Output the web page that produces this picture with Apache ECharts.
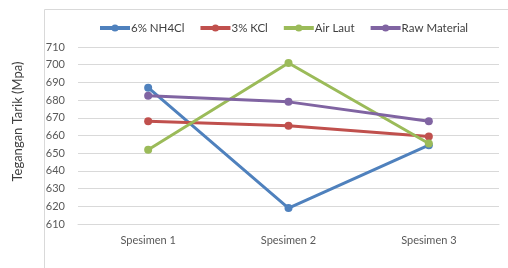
<!DOCTYPE html>
<html lang="id">
<head>
    <meta charset="UTF-8">
    <title>Tegangan Tarik</title>
    <script src="https://cdn.jsdelivr.net/npm/echarts@6/dist/echarts.min.js"></script>
    <style>
        html, body { margin: 0; padding: 0; background: #fff; }
        #chart { width: 508px; height: 268px; }
    </style>
</head>
<body>
    <div id="chart"></div>
    <script>
        // data
        var kategori = ['Spesimen 1', 'Spesimen 2', 'Spesimen 3'];
        var namaSeri = ['6% NH4Cl', '3% KCl', 'Air Laut', 'Raw Material'];
        var nh4cl = [687, 619, 654.5];
        var kcl = [668, 665.5, 659.5];
        var airLaut = [652, 701, 655.5];
        var rawMaterial = [682.5, 679, 668];
        var warna = ['#4f81bd', '#c0504d', '#9bbb59', '#8064a2'];

        var font = 'Lato, "Open Sans", sans-serif';
        var chart = echarts.init(document.getElementById('chart'));

        function seri(nama, data, c) {
            return {
                name: nama,
                type: 'line',
                data: data,
                symbol: 'circle',
                symbolSize: 8,
                color: c,
                lineStyle: { width: 3, color: c },
                itemStyle: { color: c }
            };
        }

        var option = {
            animation: false,
            title: {
                text: 'Pengaruh Larutan terhadap Tegangan Tarik',
                left: 20,
                top: -25,
                textStyle: { fontSize: 20, fontWeight: 'bold', color: '#000', fontFamily: font }
            },
            graphic: [{
                type: 'rect',
                shape: { x: 44.5, y: 9.5, width: 500, height: 300 },
                style: { fill: 'none', stroke: '#d9d9d9', lineWidth: 1 },
                silent: true
            }],
            legend: {
                data: namaSeri,
                top: 17,
                left: 93,
                itemWidth: 30,
                itemHeight: 9,
                itemGap: 14,
                lineStyle: { width: 4 },
                textStyle: { fontSize: 11.5, color: '#404040', fontFamily: font, padding: [0, 0, 0, -4] }
            },
            grid: { left: 78, right: 9, top: 47, bottom: 44 },
            xAxis: {
                type: 'category',
                data: kategori,
                axisLine: { lineStyle: { color: '#d9d9d9' } },
                axisTick: { show: false },
                axisLabel: { color: '#595959', fontSize: 11, fontFamily: font, margin: 11 }
            },
            yAxis: {
                type: 'value',
                min: 610,
                max: 710,
                interval: 10,
                name: 'Tegangan Tarik (Mpa)',
                nameLocation: 'middle',
                nameGap: 54,
                nameTextStyle: { fontSize: 13, color: '#404040', fontFamily: font, padding: [0, 0, 0, 28] },
                axisLine: { show: false },
                axisTick: { show: false },
                splitLine: { lineStyle: { color: '#d9d9d9' } },
                axisLabel: { color: '#595959', fontSize: 11, fontFamily: font, margin: 13 }
            },
            series: [
                seri(namaSeri[0], nh4cl, warna[0]),
                seri(namaSeri[1], kcl, warna[1]),
                seri(namaSeri[2], airLaut, warna[2]),
                seri(namaSeri[3], rawMaterial, warna[3])
            ]
        };

        chart.setOption(option);
    </script>
</body>
</html>
